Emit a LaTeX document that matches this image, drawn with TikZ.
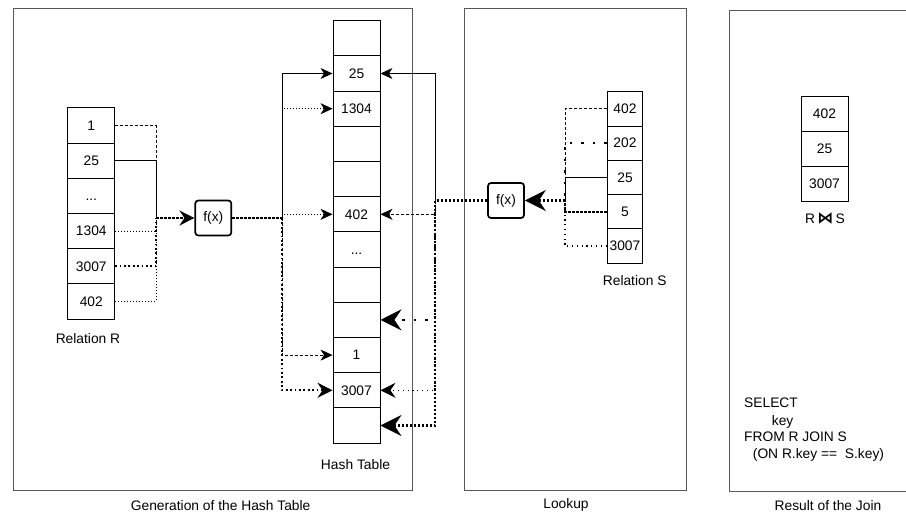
\documentclass[tikz,border=0pt]{standalone}
\usepackage{fontspec}
\setmainfont{Liberation Sans}
\newfontfamily\djv{DejaVu Sans}
\usetikzlibrary{arrows.meta}
\begin{document}
\begin{tikzpicture}[x=1pt,y=-1pt,
  every node/.style={font=\fontsize{13.8}{16.5}\selectfont},
  cell/.style={draw, line width=0.9pt, minimum width=47pt, minimum height=35.2pt, inner sep=0pt},
  scell/.style={cell, minimum width=35.5pt, minimum height=34.3pt},
  jcell/.style={cell, minimum height=35pt},
  fbox/.style={draw, line width=1.7pt, rounded corners=3pt, minimum width=36pt, minimum height=35pt, inner sep=0pt},
  frame/.style={draw=black!65, line width=1pt},
  lab/.style={inner sep=0pt},
  lsolid/.style={line width=0.8pt},
  ldash/.style={line width=0.8pt, dash pattern=on 3pt off 2pt},
  ldot/.style={line width=0.8pt, dash pattern=on 1pt off 2pt},
  ldotmed/.style={line width=1.3pt, dash pattern=on 1.3pt off 3.5pt},
  ldotthick/.style={line width=1.8pt, dash pattern=on 1.8pt off 2.6pt},
  ldense/.style={line width=2.2pt, dash pattern=on 2.5pt off 1.5pt},
  lsparse/.style={line width=2.5pt, dash pattern=on 2.5pt off 9pt},
  lmerge/.style={line width=1.5pt, dash pattern=on 3pt off 1pt},
  tipm/.style={-{Stealth[length=12pt,width=11pt,inset=3.5pt]}},
  tipl/.style={-{Stealth[length=15pt,width=15pt,inset=5pt]}},
  tipb/.style={-{Stealth[length=21pt,width=21pt,inset=7pt]}},
]
\useasboundingbox (0,0) rectangle (906,515);

% frames
\draw[frame] (13,8.3) rectangle (412.3,490);
\draw[frame] (464,8.5) rectangle (686.7,490.7);
\draw[frame] (729.3,10) rectangle (912,491.7);
\node[lab, anchor=base] (genlab) at (220.6,510.5) {Generation of the Hash Table};
\node[lab, anchor=base] (looklab) at (566,508) {Lookup};
\node[lab, anchor=base] (reslab) at (828,510.5) {Result of the Join};

% Relation R
\node[cell] (R1) at (91.3,125.5) {1};
\node[cell] (R2) at (91.3,160.7) {25};
\node[cell] (R3) at (91.3,195.9) {\vphantom{0}...};
\node[cell] (R4) at (91.3,231.1) {1304};
\node[cell] (R5) at (91.3,266.3) {3007};
\node[cell] (R6) at (91.3,301.5) {402};
\node[lab, anchor=base] (rlab) at (88,343.3) {Relation R};

% Hash table
\node[cell] (H1) at (356.5,38.3) {};
\node[cell] (H2) at (356.5,73.5) {25};
\node[cell] (H3) at (356.5,108.7) {1304};
\node[cell] (H4) at (356.5,143.9) {};
\node[cell] (H5) at (356.5,179.1) {};
\node[cell] (H6) at (356.5,214.3) {402};
\node[cell] (H7) at (356.5,249.5) {\vphantom{0}...};
\node[cell] (H8) at (356.5,284.7) {};
\node[cell] (H9) at (356.5,319.9) {};
\node[cell] (H10) at (356.5,355.1) {1};
\node[cell] (H11) at (356.5,390.3) {3007};
\node[cell] (H12) at (356.5,425.5) {};
\node[lab, anchor=base] (hlab) at (355.5,469) {Hash Table};

% Relation S
\node[scell] (S1) at (625,108.8) {402};
\node[scell] (S2) at (625,143.1) {202};
\node[scell] (S3) at (625,177.4) {25};
\node[scell] (S4) at (625,211.7) {5};
\node[scell] (S5) at (625,246.0) {3007};
\node[lab, anchor=base] (slab) at (634.7,285) {Relation S};

% Result
\node[jcell] (J1) at (824.5,113.5) {402};
\node[jcell] (J2) at (824.5,148.5) {25};
\node[jcell] (J3) at (824.5,183.5) {3007};
\node[lab, anchor=base] (jlab) at (825,223) {R\,{\djv\bfseries\fontsize{16}{18}\selectfont ⋈}\,S};
\node[lab, anchor=base west] (q1) at (744,407) {SELECT};
\node[lab, anchor=base west] (q2) at (771.7,425) {key};
\node[lab, anchor=base west] (q3) at (744,441.5) {FROM R JOIN S};
\node[lab, anchor=base west] (q4) at (752.7,458.5) {(ON R.key ==\ \ S.key)};

% hash functions
\node[fbox] (fR) at (213.3,218) {f(x)};
\node[fbox] (fS) at (506,200.5) {f(x)};

% R to f(x)
\coordinate (mR) at (156,218);
\draw[ldash] (R1.east) -| (mR);
\draw[lsolid] (R2.east) -| (mR);
\draw[ldot] (R4.east) -| (mR);
\draw[ldotthick] (R5.east) -| (mR);
\draw[ldot] (R6.east) -| (mR);
\draw[lmerge, tipl] (mR) -- (fR.west);

% f(x) to hash table
\coordinate (hL) at (282,218);
\draw[lmerge] (fR.east) -- (hL);
\draw[lsolid, tipm] (hL) |- (H2.west);
\draw[ldot, tipm] (hL) |- (H3.west);
\draw[ldot, tipm] (hL) |- (H6.west);
\draw[ldash, tipm] (hL) |- (H10.west);
\draw[ldotthick, tipl] (hL) |- (H11.west);

% S to f(x)
\coordinate (mS) at (565,200.5);
\draw[ldash] (S1.west) -| (mS);
\draw[lsparse] (S2.west) -| (mS);
\draw[lsolid] (S3.west) -| (mS);
\draw[ldense] (S4.west) -| (mS);
\draw[ldotmed] (S5.west) -| (mS);
\draw[ldense, tipb] (mS) -- (fS.east);

% lookup in hash table
\coordinate (hR) at (435,200.5);
\draw[ldense] (fS.west) -- (hR);
\draw[lsolid, tipm] (hR) |- (H2.east);
\draw[ldash, tipm] (hR) |- (H6.east);
\draw[lsparse, tipb] (hR) |- (H9.east);
\draw[ldotmed, tipl] (hR) |- (H11.east);
\draw[ldense, tipb] (hR) |- (H12.east);
\end{tikzpicture}
\end{document}
